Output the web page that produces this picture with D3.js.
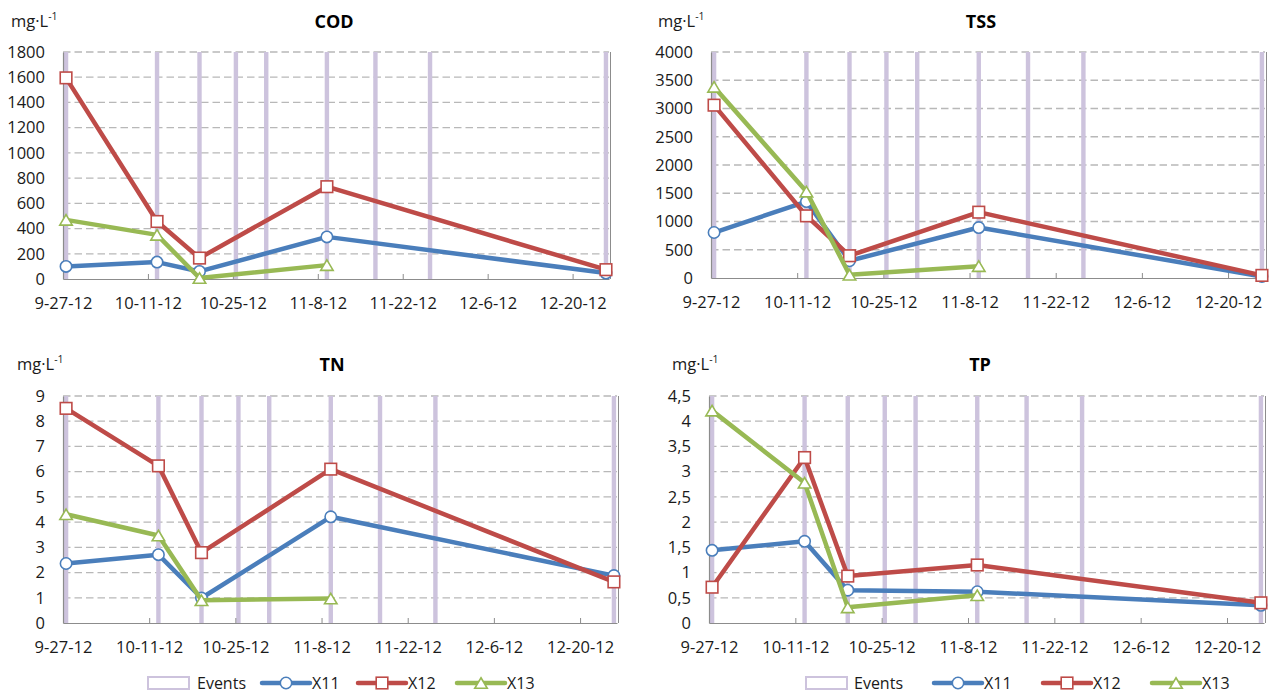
<!DOCTYPE html>
<html>
<head>
<meta charset="utf-8">
<script src="https://cdn.jsdelivr.net/npm/d3@7"></script>
<style>
  html, body { margin: 0; padding: 0; background: #fff; }
  svg { display: block; font-family: "Open Sans", Lato, sans-serif; }
</style>
</head>
<body>
<svg id="chart" width="1280" height="695"></svg>
<script>
// ---------- DATA ----------
const sampleDates = ["2012-09-27", "2012-10-12", "2012-10-19", "2012-11-09", "2012-12-25"];
const eventDates = ["2012-09-27", "2012-10-12", "2012-10-19", "2012-10-25", "2012-10-30",
                    "2012-11-09", "2012-11-17", "2012-11-26", "2012-12-25"];
const tickDates = ["2012-09-27", "2012-10-11", "2012-10-25", "2012-11-08", "2012-11-22", "2012-12-06", "2012-12-20"];
const seriesNames = ["X11", "X12", "X13"];

const codX11 = [100, 134, 60, 334, 47];
const codX12 = [1595, 456, 166, 732, 74];
const codX13 = [469, 350, 8, 110, null];

const tssX11 = [805, 1352, 305, 893, 28];
const tssX12 = [3059, 1100, 394, 1165, 46];
const tssX13 = [3382, 1529, 58, 210, null];

const tnX11 = [2.36, 2.71, 0.99, 4.21, 1.88];
const tnX12 = [8.51, 6.23, 2.79, 6.10, 1.63];
const tnX13 = [4.31, 3.47, 0.90, 0.97, null];

const tpX11 = [1.44, 1.62, 0.65, 0.62, 0.35];
const tpX12 = [0.71, 3.28, 0.93, 1.15, 0.40];
const tpX13 = [4.21, 2.78, 0.31, 0.55, null];

const panelTitles = ["COD", "TSS", "TN", "TP"];
const panelMax = [1800, 4000, 9, 4.5];
const panelStep = [200, 500, 1, 0.5];

// ---------- STYLE / LAYOUT ----------
const FONT = "'Open Sans', Lato, sans-serif";
const colors = { X11: "#4a7ebb", X12: "#be4b48", X13: "#98b954" };
const eventColor = "#cdc3dd";
const gridColor = "#b8b8b8";
const axisColor = "#8c8c8c";
const textColor = "#1a1a1a";

const layouts = [
  { left: 63,  right: 609,  top: 52,  bottom: 279, unitX: 11,  titleX: 334, titleY: 28,  unitY: 27 },
  { left: 711, right: 1265, top: 52,  bottom: 278, unitX: 658, titleX: 981, titleY: 28,  unitY: 27 },
  { left: 63,  right: 617,  top: 396, bottom: 623, unitX: 17,  titleX: 332, titleY: 371, unitY: 370 },
  { left: 709, right: 1264, top: 396, bottom: 623, unitX: 672, titleX: 980, titleY: 371, unitY: 370 }
];

const panelData = [
  [codX11, codX12, codX13],
  [tssX11, tssX12, tssX13],
  [tnX11, tnX12, tnX13],
  [tpX11, tpX12, tpX13]
];

const parse = d3.timeParse("%Y-%m-%d");
const fmtDate = d3.timeFormat("%-m-%-d-%y");
const halfDay = d => d3.timeHour.offset(d, 12);
const xStart = parse("2012-09-27");
const xEnd = parse("2012-12-26");

const svg = d3.select("#chart");

function drawMarker(g, name, x, y) {
  const c = colors[name];
  if (name === "X11") {
    g.append("circle").attr("cx", x).attr("cy", y).attr("r", 5.7)
      .attr("fill", "#fff").attr("stroke", c).attr("stroke-width", 1.6);
  } else if (name === "X12") {
    g.append("rect").attr("x", x - 5.8).attr("y", y - 5.8).attr("width", 11.6).attr("height", 11.6)
      .attr("fill", "#fff").attr("stroke", c).attr("stroke-width", 1.6);
  } else {
    const h = 10.5, w = 12.5;
    g.append("path")
      .attr("d", `M${x},${y - h / 2}L${x + w / 2},${y + h / 2}L${x - w / 2},${y + h / 2}Z`)
      .attr("fill", "#fff").attr("stroke", c).attr("stroke-width", 1.6);
  }
}

panelData.forEach((series, pi) => {
  const L = layouts[pi];
  const g = svg.append("g");
  const x = d3.scaleTime().domain([xStart, xEnd]).range([L.left, L.right]);
  const y = d3.scaleLinear().domain([0, panelMax[pi]]).range([L.bottom, L.top]);
  const yTicks = d3.range(0, panelMax[pi] + panelStep[pi] / 2, panelStep[pi]);
  const yFmt = pi === 3 ? (v => String(+v.toFixed(1)).replace(".", ",")) : (v => String(+v.toFixed(1)));

  // gridlines
  g.append("g").selectAll("line").data(yTicks.filter(v => v > 0)).join("line")
    .attr("x1", L.left).attr("x2", L.right)
    .attr("y1", d => y(d)).attr("y2", d => y(d))
    .attr("stroke", gridColor).attr("stroke-width", 1.3).attr("stroke-dasharray", "7.5,4");

  // event bars
  g.append("g").selectAll("rect").data(eventDates.map(parse)).join("rect")
    .attr("x", d => x(halfDay(d)) - 2.2).attr("width", 4.4)
    .attr("y", L.top).attr("height", L.bottom - L.top)
    .attr("fill", eventColor);

  // right border line (secondary axis)
  g.append("line").attr("x1", L.right + 1.5).attr("x2", L.right + 1.5)
    .attr("y1", L.top).attr("y2", L.bottom)
    .attr("stroke", axisColor).attr("stroke-width", 1);

  // y axis
  const yAxis = d3.axisLeft(y).tickValues(yTicks).tickFormat(yFmt).tickSize(0).tickPadding(18);
  const ya = g.append("g").attr("transform", `translate(${L.left},0)`).call(yAxis);
  ya.select(".domain").attr("stroke", axisColor).attr("stroke-width", 1.2);
  ya.selectAll("text").attr("font-size", 16.5).attr("fill", textColor).attr("font-family", FONT);

  // x axis
  const xAxis = d3.axisTop(x).tickValues(tickDates.map(parse)).tickFormat(fmtDate).tickSize(5).tickSizeOuter(0);
  const xa = g.append("g").attr("transform", `translate(0,${L.bottom})`).call(xAxis);
  xa.select(".domain").attr("stroke", axisColor).attr("stroke-width", 1.2);
  xa.selectAll(".tick line").attr("stroke", axisColor);
  xa.selectAll("text").attr("font-size", 16.5).attr("fill", textColor)
    .attr("font-family", FONT)
    .attr("y", 30).attr("dy", 0);

  // series
  series.forEach((vals, si) => {
    const name = seriesNames[si];
    const pts = vals.map((v, i) => ({ d: halfDay(parse(sampleDates[i])), v })).filter(p => p.v != null);
    const line = d3.line().x(p => x(p.d)).y(p => y(p.v));
    g.append("path").datum(pts).attr("d", line)
      .attr("fill", "none").attr("stroke", colors[name]).attr("stroke-width", 4.5)
      .attr("stroke-linejoin", "round").attr("stroke-linecap", "round");
    const mg = g.append("g");
    pts.forEach(p => drawMarker(mg, name, x(p.d), y(p.v)));
  });

  // title
  g.append("text").attr("x", L.titleX).attr("y", L.titleY).attr("text-anchor", "middle")
    .attr("font-size", 18).attr("font-weight", "bold").attr("fill", "#000").text(panelTitles[pi]);

  // unit label
  const ut = g.append("text").attr("x", L.unitX).attr("y", L.unitY).attr("font-size", 16.5).attr("fill", textColor);
  ut.append("tspan").text("mg·L");
  ut.append("tspan").attr("font-size", 10.5).attr("dy", -7).text("-1");
});

// ---------- LEGENDS ----------
const legendDefs = [
  { box: 148, events: 197, lines: [262, 358, 457] },
  { box: 806, events: 854, lines: [934, 1043, 1152] }
];
legendDefs.forEach(ld => {
  const g = svg.append("g");
  const cy = 683;
  g.append("rect").attr("x", ld.box).attr("y", cy - 6).attr("width", 41).attr("height", 12)
    .attr("fill", "#fff").attr("stroke", eventColor).attr("stroke-width", 2);
  g.append("text").attr("x", ld.events).attr("y", cy + 6).attr("font-size", 16).attr("fill", textColor).text("Events");
  seriesNames.forEach((name, i) => {
    const x0 = ld.lines[i];
    g.append("line").attr("x1", x0).attr("x2", x0 + 48).attr("y1", cy).attr("y2", cy)
      .attr("stroke", colors[name]).attr("stroke-width", 4.5).attr("stroke-linecap", "round");
    drawMarker(g, name, x0 + 24, cy);
    g.append("text").attr("x", x0 + 50).attr("y", cy + 6).attr("font-size", 16).attr("fill", textColor).text(name);
  });
});
</script>
</body>
</html>
